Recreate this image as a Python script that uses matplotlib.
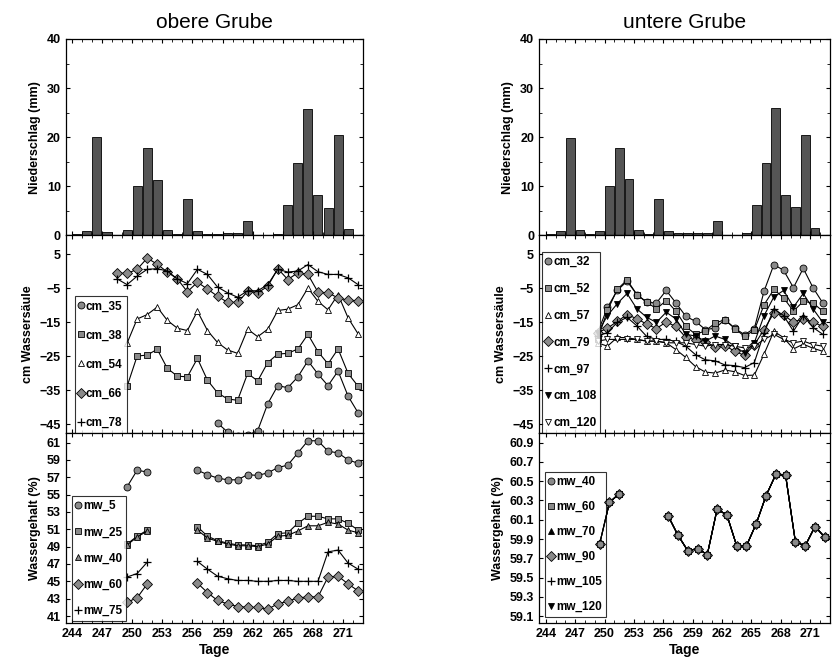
import numpy as np
import matplotlib
matplotlib.use("Agg")
import matplotlib.pyplot as plt

plt.rcParams['font.family'] = ['Liberation Sans', 'DejaVu Sans']
plt.rcParams['font.weight'] = 'bold'

# --- Niederschlag (mm), Tage 244..271 (bar centred at day + 0.5)
rain_days = np.arange(244, 272) + 0.5
rain_oben = [0.3, 0.8, 20, 0.7, 0, 1.0, 10, 17.8, 11.3, 1.0, 0.2, 7.5, 0.8, 0.3,
             0.3, 0.5, 0.5, 3.0, 0, 0, 0.3, 6.2, 14.8, 25.8, 8.3, 5.6, 20.5, 1.3]
rain_unten = [0.2, 0.8, 19.9, 1.0, 0.2, 0.8, 10, 17.7, 11.4, 1.0, 0.3, 7.5, 0.8, 0.4,
              0.4, 0.5, 0.5, 2.9, 0.1, 0.1, 0.4, 6.2, 14.7, 25.9, 8.3, 5.7, 20.4, 1.4]

# --- obere Grube, cm Wassersaeule
ob_days = np.arange(248.5, 273)
cm_66 = [-0.5, -0.6, 0.6, 3.9, 2.1, -0.2, -2.2, -6.0, -3.2, -5.2, -7.3, -9.1, -9.1,
         -5.9, -6.3, -4.4, 0.8, -2.4, -0.4, -0.9, -6.1, -6.3, -7.8, -8.5, -8.6]
cm_78 = [-2.2, -3.9, -1.4, 0.6, 0.8, 0.1, -2.2, -3.6, 0.6, -0.9, -4.6, -6.3, -7.6,
         -5.7, -5.7, -3.9, 0.6, -0.2, 0.1, 2.0, -0.1, -0.9, -0.9, -1.9, -3.9]
cm_54 = [np.nan, -21.1, -14.0, -12.7, -10.5, -14.4, -16.7, -17.4, -11.7, -17.4, -20.9,
         -23.1, -24.1, -17.0, -19.2, -17.0, -11.5, -11.1, -9.8, -4.9, -8.8, -11.3,
         -6.8, -13.7, -18.4]
cm_38 = [np.nan, -33.8, -24.9, -24.6, -22.9, -28.5, -30.8, -31.0, -25.6, -32.0, -35.7,
         -37.5, -37.9, -30.0, -32.2, -26.8, -24.3, -24.1, -22.8, -18.5, -23.6, -27.2,
         -22.8, -30.0, -33.8]
cm_35 = [np.nan] * 10 + [-44.6, -47.2, -48.5, -48.2, -46.8, -38.9, -33.6, -34.2,
                         -31.0, -26.3, -30.2, -33.6, -29.3, -36.7, -41.6]

# --- obere Grube, Wassergehalt (%)
mw_days = [249.5, 250.5, 251.5, np.nan] + list(np.arange(256.5, 273))
mw_5 = [55.9, 57.8, 57.6, np.nan, 57.8, 57.3, 56.9, 56.7, 56.7, 57.3, 57.2, 57.5, 58.1,
        58.4, 59.8, 61.2, 61.2, 60.0, 59.8, 59.0, 58.6]
mw_25 = [49.3, 50.2, 50.9, np.nan, 51.3, 50.2, 49.7, 49.4, 49.2, 49.2, 49.1, 49.5, 50.5,
         50.6, 51.7, 52.5, 52.5, 52.2, 52.2, 51.7, 50.9]
mw_40 = [49.2, 50.1, 50.8, np.nan, 50.9, 50.0, 49.6, 49.3, 49.1, 49.1, 49.0, 49.3, 50.2,
         50.3, 50.8, 51.4, 51.4, 51.8, 51.6, 50.9, 50.6]
mw_60 = [42.6, 43.1, 44.7, np.nan, 44.8, 43.7, 42.8, 42.4, 42.1, 42.0, 42.0, 41.8, 42.4,
         42.7, 43.1, 43.2, 43.2, 45.5, 45.6, 44.7, 43.9]
mw_75 = [45.5, 45.9, 47.2, np.nan, 47.3, 46.4, 45.6, 45.3, 45.1, 45.1, 45.0, 45.0, 45.1,
         45.1, 45.0, 45.0, 45.0, 48.4, 48.6, 47.1, 46.4]

# --- untere Grube, cm Wassersaeule
un_days = np.arange(249.3, 273)
cm_32 = [-18, -10.6, -5.6, -2.9, -6.8, -9.1, -9.3, -5.6, -9.3, -13.2, -14.7, -17.1,
         -16.7, -14.2, -16.7, -18.6, -16.8, -5.8, 2.0, 0.3, -4.8, 0.9, -4.8, -9.3]
cm_52 = [-20, -11.5, -5.3, -2.5, -6.8, -9.0, -11, -8.6, -11.7, -16.2, -18.5, -17.5,
         -15.2, -14.2, -16.8, -19.1, -17.3, -9.8, -5.3, -7.8, -11.7, -8.8, -9.3, -11.7]
cm_57 = [-21, -22, -19.4, -19.5, -20, -20.5, -20.5, -21, -23, -25.3, -28, -29.6, -29.9,
         -29, -29.5, -30.6, -30.5, -24.3, -17.6, -19.5, -22.8, -21.4, -22.6, -23.5]
cm_79 = [-18, -16.7, -14.7, -12.7, -13.9, -15.5, -16.8, -14.9, -16.2, -19.4, -20.1,
         -20.8, -22.1, -21.8, -23.5, -24.7, -21.6, -17.1, -12.2, -12.9, -14.9, -13.9,
         -14.9, -16.2]
cm_97 = [-19, -18, -15, -13.5, -16, -19.1, -20, -20, -20.6, -22, -24.5, -26, -26.3,
         -27.5, -27.7, -28.3, -26.8, -18.1, -11, -13, -17.6, -13, -16.5, -18.5]
cm_108 = [-18, -13, -9.5, -6.5, -11, -13.5, -15, -12, -14, -18.5, -19, -20.5, -19, -20,
          -22, -24, -21, -13, -7.5, -5.6, -10.5, -6.5, -11, -15]
cm_120 = [-20.5, -20, -20, -20, -20, -20.5, -20.5, -21, -21, -21, -21.5, -22, -21.5,
          -21.5, -22, -22.5, -22, -20, -18.5, -20, -21, -20.5, -21.5, -22]

# --- untere Grube, Wassergehalt (%) (all depths overlap)
mwu = [59.85, 60.28, 60.37, np.nan, 60.14, 59.94, 59.78, 59.80, 59.74, 60.21, 60.15,
       59.83, 59.83, 60.06, 60.35, 60.57, 60.56, 59.87, 59.83, 60.03, 59.92]

x_ticks = [244, 247, 250, 253, 256, 259, 262, 265, 268, 271]

grey = '#8a8a8a'
tick_kw = dict(labelsize=9, direction='in', length=3)


def style(ax, xlim):
    ax.set_xlim(*xlim)
    ax.set_xticks(x_ticks)
    ax.set_xticks(np.arange(244, 273), minor=True)
    ax.tick_params(which='both', top=True, right=True, **tick_kw)
    ax.tick_params(which='minor', length=2)
    for s in ax.spines.values():
        s.set_linewidth(0.9)


def series(ax, x, y, mk, label, fill=grey, z=2):
    if mk == '+':
        ax.plot(x, y, '-', marker='+', color='black', lw=0.8, ms=6, mew=0.9,
                label=label, zorder=z)
    else:
        ax.plot(x, y, '-', marker=mk, color='black', lw=0.8, ms=5,
                mfc=fill, mec='black', mew=0.6, label=label, zorder=z)


def leg(ax, bbox, spacing):
    lg = ax.legend(loc='lower left', bbox_to_anchor=bbox, frameon=True, fancybox=False,
                   edgecolor='black', handlelength=0.4, handletextpad=0.2,
                   borderpad=0.35, labelspacing=spacing, borderaxespad=0,
                   prop={'size': 8.5, 'weight': 'bold'})
    lg.get_frame().set_linewidth(0.8)
    lg.set_zorder(5)
    for h in lg.legend_handles:
        h.set_linestyle('')


fig = plt.figure(figsize=(8.33, 6.61), dpi=100)

cols = {'oben': (0.079, 0.357), 'unten': (0.647, 0.349)}
rows = [(0.644, 0.297), (0.345, 0.299), (0.0575, 0.2875)]

for key, title, rain in [('oben', 'obere Grube', rain_oben), ('unten', 'untere Grube', rain_unten)]:
    left, width = cols[key]
    xlim = (243.4, 273) if key == 'oben' else (243.3, 273)
    a1 = fig.add_axes([left, rows[0][0], width, rows[0][1]])
    a2 = fig.add_axes([left, rows[1][0], width, rows[1][1]])
    a3 = fig.add_axes([left, rows[2][0], width, rows[2][1]])
    for a in (a1, a2, a3):
        style(a, xlim)
    a1.bar(rain_days, rain, width=0.9, color='#555555', edgecolor='black', lw=0.6)
    a1.set_ylim(0, 40)
    a1.set_yticks([0, 10, 20, 30, 40])
    a1.set_yticks([5, 15, 25, 35], minor=True)
    a1.set_ylabel('Niederschlag (mm)', fontsize=9, fontweight='bold')
    a1.set_title(title, fontsize=15, fontweight='normal', pad=8)
    a1.tick_params(labelbottom=False)
    a2.tick_params(labelbottom=False)
    a2.set_ylabel('cm Wassersäule', fontsize=9, fontweight='bold')
    a3.set_ylabel('Wassergehalt (%)', fontsize=9, fontweight='bold')
    a3.set_xlabel('Tage', fontsize=10, fontweight='bold', labelpad=2)
    a2.set_yticks([5, -5, -15, -25, -35, -45])

    if key == 'oben':
        series(a2, ob_days, cm_35, 'o', 'cm_35')
        series(a2, ob_days, cm_38, 's', 'cm_38')
        series(a2, ob_days, cm_54, '^', 'cm_54', fill='white')
        series(a2, ob_days, cm_66, 'D', 'cm_66')
        series(a2, ob_days, cm_78, '+', 'cm_78')
        a2.set_ylim(-47.5, 10.6)
        leg(a2, (0.03, 0.0), 1.45)
        series(a3, mw_days, mw_5, 'o', 'mw_5')
        series(a3, mw_days, mw_25, 's', 'mw_25')
        series(a3, mw_days, mw_40, '^', 'mw_40')
        series(a3, mw_days, mw_60, 'D', 'mw_60')
        series(a3, mw_days, mw_75, '+', 'mw_75')
        a3.set_ylim(40.2, 62.1)
        a3.set_yticks(np.arange(41, 62, 2))
        leg(a3, (0.02, 0.01), 1.2)
    else:
        series(a2, un_days, cm_32, 'o', 'cm_32')
        series(a2, un_days, cm_52, 's', 'cm_52')
        series(a2, un_days, cm_57, '^', 'cm_57', fill='white')
        series(a2, un_days, cm_79, 'D', 'cm_79')
        series(a2, un_days, cm_97, '+', 'cm_97')
        series(a2, un_days, cm_108, 'v', 'cm_108', fill='black')
        series(a2, un_days, cm_120, 'v', 'cm_120', fill='white')
        a2.set_ylim(-47.5, 10.6)
        leg(a2, (0.01, 0.0), 1.25)
        mw_u = [('o', 'mw_40', grey), ('s', 'mw_60', grey), ('^', 'mw_70', 'black'),
                ('D', 'mw_90', grey), ('+', 'mw_105', grey), ('v', 'mw_120', 'black')]
        zs = [8, 7, 2, 6, 3, 2]
        for (mk, lab, f), z in zip(mw_u, zs):
            series(a3, mw_days, mwu, mk, lab, fill=f, z=z)
        a3.set_ylim(59.03, 61.0)
        a3.set_yticks([59.1, 59.3, 59.5, 59.7, 59.9, 60.1, 60.3, 60.5, 60.7, 60.9])
        leg(a3, (0.02, 0.03), 1.1)

fig.savefig('out.png', dpi=100)
